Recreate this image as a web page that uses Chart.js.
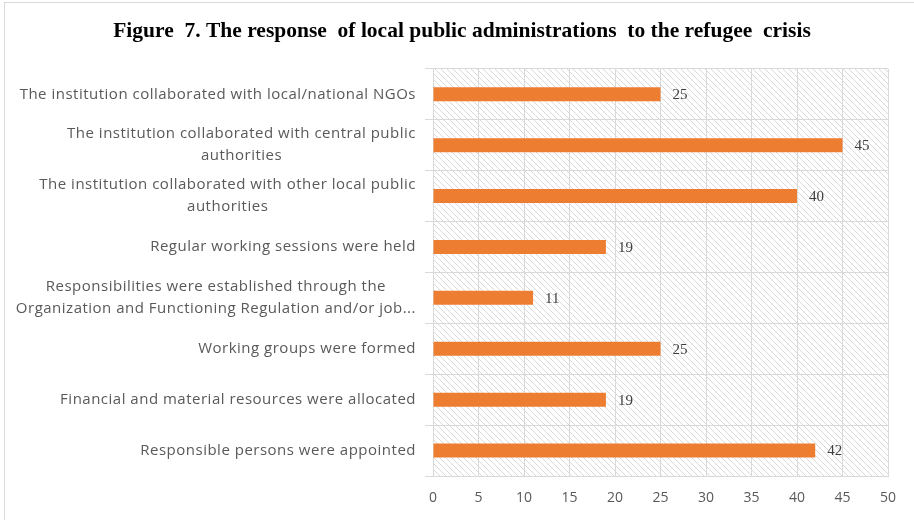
<!DOCTYPE html>
<html lang="en">
<head>
<meta charset="UTF-8">
<title>Figure 7</title>
<script src="https://cdn.jsdelivr.net/npm/chart.js"></script>
<style>
  html, body { margin: 0; padding: 0; background: #fff; }
  #wrap { position: relative; width: 914px; height: 520px; }
</style>
</head>
<body>
<div id="wrap"><canvas id="chart" width="914" height="520"></canvas></div>
<script>
// categories, top to bottom
const categories = [
  ["The institution collaborated with local/national NGOs"],
  ["The institution collaborated with central public", "authorities"],
  ["The institution collaborated with other local public", "authorities"],
  ["Regular working sessions were held"],
  ["Responsibilities were established through the", "Organization and Functioning Regulation and/or job..."],
  ["Working groups were formed"],
  ["Financial and material resources were allocated"],
  ["Responsible persons were appointed"]
];
const values = [25, 45, 40, 19, 11, 25, 19, 42];
const xTicks = [0, 5, 10, 15, 20, 25, 30, 35, 40, 45, 50];

const labelFont = '15px "Open Sans", sans-serif';
const valueFont = '15px "Liberation Serif", serif';

// diagonal hatch fill for the plot area
function hatchPattern(ctx) {
  const t = document.createElement('canvas');
  t.width = 6; t.height = 6;
  const c = t.getContext('2d');
  c.strokeStyle = '#d9d9d9';
  c.lineWidth = 1;
  c.beginPath();
  c.moveTo(-1, -1); c.lineTo(7, 7);
  c.moveTo(5, -1); c.lineTo(7, 1);
  c.moveTo(-1, 5); c.lineTo(1, 7);
  c.stroke();
  return ctx.createPattern(t, 'repeat');
}

const backdrop = {
  id: 'backdrop',
  beforeDraw(chart) {
    const { ctx, chartArea: a } = chart;
    ctx.save();
    ctx.strokeStyle = '#d9d9d9';
    ctx.lineWidth = 1;
    ctx.strokeRect(4.5, 2.5, 930, 540);
    ctx.fillStyle = hatchPattern(ctx);
    ctx.fillRect(a.left, a.top, a.right - a.left, a.bottom - a.top);
    ctx.restore();
  }
};

// category labels: each block right aligned, its lines centred
const catLabels = {
  id: 'catLabels',
  afterDraw(chart) {
    const { ctx } = chart;
    const y = chart.scales.y;
    const right = chart.chartArea.left - 17;
    ctx.save();
    ctx.font = labelFont;
    ctx.letterSpacing = '0.5px';
    ctx.fillStyle = '#595959';
    ctx.textAlign = 'center';
    ctx.textBaseline = 'middle';
    const lh = 22;
    categories.forEach((lines, i) => {
      const cy = y.getPixelForValue(i);
      const w = Math.max(...lines.map(l => ctx.measureText(l).width));
      const cx = right - w / 2;
      lines.forEach((l, j) => {
        ctx.fillText(l, cx, cy + (j - (lines.length - 1) / 2) * lh);
      });
    });
    ctx.restore();
  }
};

const valueLabels = {
  id: 'valueLabels',
  afterDatasetsDraw(chart) {
    const { ctx } = chart;
    const meta = chart.getDatasetMeta(0);
    ctx.save();
    ctx.font = valueFont;
    ctx.fillStyle = '#404040';
    ctx.textAlign = 'left';
    ctx.textBaseline = 'middle';
    meta.data.forEach((bar, i) => {
      ctx.fillText(values[i], bar.x + 12, bar.y + 1);
    });
    ctx.restore();
  }
};

new Chart(document.getElementById('chart'), {
  type: 'bar',
  data: {
    labels: categories.map(c => c.join(' ')),
    datasets: [{
      data: values,
      backgroundColor: '#ed7d31',
      categoryPercentage: 0.55,
      barPercentage: 0.5
    }]
  },
  plugins: [backdrop, catLabels, valueLabels],
  options: {
    indexAxis: 'y',
    responsive: false,
    animation: false,
    layout: { padding: { top: 0, right: 26, bottom: 0, left: 36 } },
    plugins: {
      legend: { display: false },
      tooltip: { enabled: false },
      title: {
        display: true,
        text: 'Figure  7. The response  of local public administrations  to the refugee  crisis',
        color: '#000',
        font: { family: '"Liberation Serif", serif', size: 21.5, weight: 'bold' },
        padding: { top: 19, bottom: 24 }
      }
    },
    scales: {
      x: {
        min: 0,
        max: 50,
        afterBuildTicks(scale) { scale.ticks = xTicks.map(v => ({ value: v })); },
        afterFit(scale) { scale.height = 44; },
        grid: { color: '#d9d9d9', drawTicks: false },
        border: { color: '#d9d9d9' },
        ticks: {
          color: '#595959',
          font: { family: '"Open Sans", sans-serif', size: 14 },
          padding: 14
        }
      },
      y: {
        grid: { color: '#d9d9d9', offset: true, tickLength: 8 },
        border: { color: '#d9d9d9' },
        ticks: { display: false },
        afterFit(scale) { scale.width = 397; }
      }
    }
  }
});
</script>
</body>
</html>
